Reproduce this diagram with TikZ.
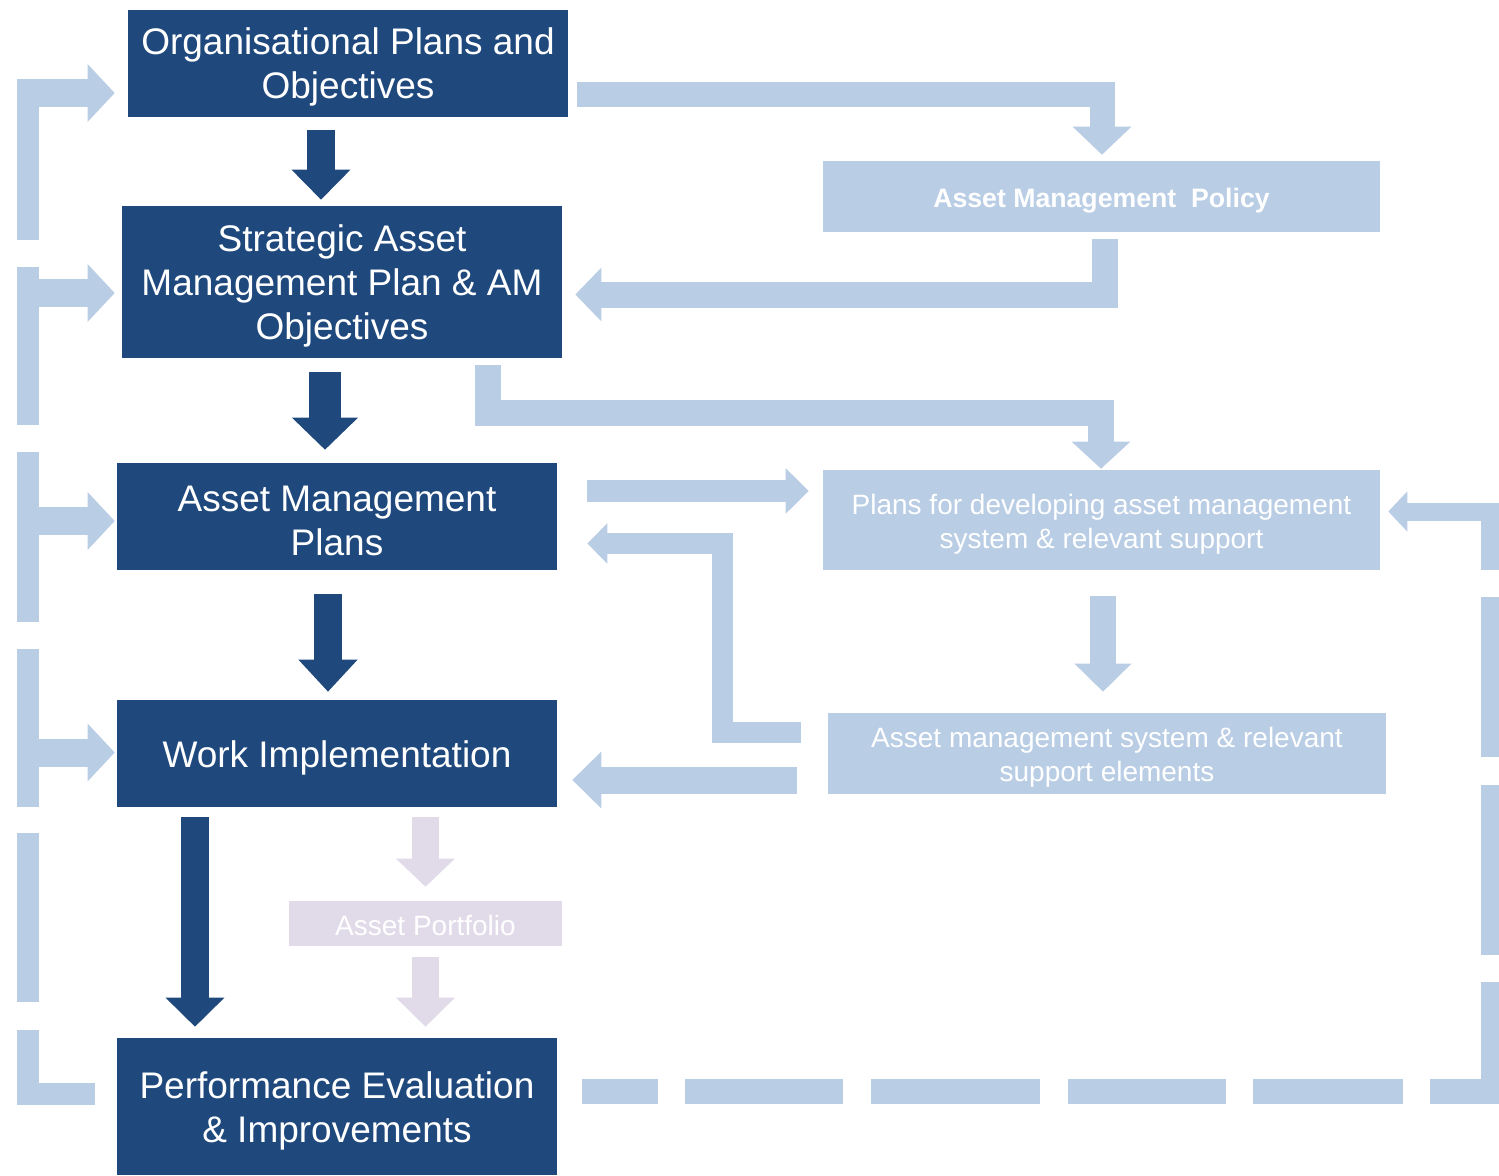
\documentclass[tikz,border=0pt]{standalone}
\usepackage{fontspec}
\setmainfont{Liberation Sans}
\usetikzlibrary{arrows.meta,calc}

\definecolor{dkblue}{RGB}{31,73,125}
\definecolor{ltblue}{RGB}{185,205,229}
\definecolor{lav}{RGB}{224,218,233}

% invisible struts that set the first-line height inside the boxes
\newcommand{\bigstrut}{\rule{0pt}{26pt}}
\newcommand{\smlstrut}{\rule{0pt}{21pt}}
\newcommand{\tinystrut}{\rule{0pt}{18pt}}

\tikzset{
  dkbox/.style={fill=dkblue, text=white, inner sep=0pt, align=center,
    font=\fontsize{27.75}{33}\selectfont},
  ltbox/.style={fill=ltblue, text=white, inner sep=0pt, align=center,
    font=\fontsize{21}{25.5}\selectfont},
  lvbox/.style={fill=lav, text=white, inner sep=0pt, align=center,
    font=\fontsize{21}{25.5}\selectfont},
  % block arrow: shaft width, head width, head length
  blk/.style n args={3}{line width=#1, line join=miter, line cap=butt,
    -{Triangle[width=#2 0 0, length=#3 0 0]}},
  dkarr/.style={draw=dkblue},
  ltarr/.style={draw=ltblue},
  lvarr/.style={draw=lav},
}

\begin{document}
\begin{tikzpicture}[x=0.75pt, y=-0.75pt]
\useasboundingbox (0,0) rectangle (1499,1175);

% main process boxes
\node[dkbox, minimum width=330pt, minimum height=80.25pt] (org) at (348,63.5)
  {\bigstrut Organisational Plans and\\Objectives};
\node[dkbox, minimum width=330pt, minimum height=114pt] (sam) at (342,282)
  {\bigstrut Strategic Asset\\Management Plan \& AM\\Objectives};
\node[dkbox, minimum width=330pt, minimum height=80.25pt] (amp) at (337,516.5)
  {\bigstrut Asset Management\\Plans};
\node[dkbox, minimum width=330pt, minimum height=80.25pt] (wrk) at (337,753.5)
  {\bigstrut Work Implementation};
\node[dkbox, minimum width=330pt, minimum height=102.75pt] (perf) at (337,1106.5)
  {\bigstrut Performance Evaluation\\\& Improvements};

% supporting boxes
\node[ltbox, minimum width=417.75pt, minimum height=53.25pt,
  font=\fontsize{20}{24}\selectfont\bfseries] (pol) at (1101.5,196.5)
  {\smlstrut Asset Management~ Policy};
\node[ltbox, minimum width=417.75pt, minimum height=75pt] (pdev) at (1101.5,520)
  {\smlstrut Plans for developing asset management\\system \& relevant support};
\node[ltbox, minimum width=418.5pt, minimum height=60.75pt] (ams) at (1107,753.5)
  {\smlstrut Asset management system \& relevant\\support elements};
\node[lvbox, minimum width=204.75pt, minimum height=33.75pt] (port) at (425.5,923.5)
  {\tinystrut Asset Portfolio};

% main downward flow
\draw[dkarr, blk={21pt}{42.75pt}{22.5pt}]
  ($(org.south)+(-27,13)$) -- ($(sam.north)+(-21,-6)$);
\draw[dkarr, blk={24pt}{48pt}{24pt}]
  ($(sam.south)+(-17,14)$) -- ($(amp.north)+(-12,-13)$);
\draw[dkarr, blk={21pt}{42.75pt}{24pt}]
  ($(amp.south)+(-9,24)$) -- ($(wrk.north)+(-9,-8)$);
\draw[dkarr, blk={21pt}{42.75pt}{21.75pt}]
  ($(wrk.south)+(-142,10)$) -- ($(perf.north)+(-142,-11)$);

% asset portfolio branch
\draw[lvarr, blk={20.25pt}{42.75pt}{21pt}]
  ($(wrk.south)+(88.5,10)$) -- ($(port.north)+(0,-14)$);
\draw[lvarr, blk={20.25pt}{42.75pt}{21.75pt}]
  ($(port.south)+(0,11)$) -- ($(perf.north)+(88.5,-11)$);

% policy and support links
\draw[ltarr, blk={18.75pt}{42.75pt}{21pt}]
  ($(org.east)+(9,30.5)$) -| ($(pol.north)+(0.5,-6)$);
\draw[ltarr, blk={19.5pt}{39pt}{19.5pt}]
  ($(pol.south)+(3.5,7)$) |- ($(sam.east)+(13,12.5)$);
\draw[ltarr, blk={19.5pt}{42.75pt}{20.25pt}]
  ($(sam.south)+(146,7)$) |- ($(pdev.north)+(-0.5,-57)$) -- ($(pdev.north)+(-0.5,-1)$);
\draw[ltarr, blk={16.5pt}{33pt}{17.25pt}]
  ($(amp.east)+(30,-25.5)$) -- ($(pdev.west)+(-14,-29)$);
\draw[ltarr, blk={15.75pt}{29.25pt}{15pt}]
  ($(ams.west)+(-27,-21.5)$) -| ($(amp.east)+(165.5,27)$) -- ($(amp.east)+(30,27)$);
\draw[ltarr, blk={20.25pt}{41.25pt}{21.75pt}]
  ($(ams.west)+(-31,26.5)$) -- ($(wrk.east)+(15,26.5)$);
\draw[ltarr, blk={19.5pt}{41.25pt}{21pt}]
  ($(pdev.south)+(1.5,26)$) -- ($(ams.north)+(-4,-21)$);

% feedback loop on the left
\coordinate (ltop) at (27.5,79);
\draw[draw=ltblue, line width=16.5pt, line join=miter,
  dash pattern=on 98.625pt off 21pt on 126.75pt off 19.5pt on 118.5pt off 20.25pt
    on 127.5pt off 20.25pt on 118.5pt off 20.25pt on 150pt]
  ($(perf.west)+(-22,-12.5)$) -| (ltop);
\coordinate (tap1) at (17,93);
\coordinate (tap2) at (17,293);
\coordinate (tap3) at (17,521);
\coordinate (tap4) at (17,752.5);
\draw[ltarr, blk={21pt}{42pt}{20.25pt}] (tap1) -- ($(org.west)+(-13,29.5)$);
\draw[ltarr, blk={21pt}{42pt}{20.25pt}] (tap2) -- ($(sam.west)+(-7,11)$);
\draw[ltarr, blk={21pt}{42pt}{20.25pt}] (tap3) -- ($(amp.west)+(-2,4.5)$);
\draw[ltarr, blk={21pt}{42pt}{20.25pt}] (tap4) -- ($(wrk.west)+(-2,-1)$);

% feedback loop on the right
\coordinate (rbend) at (1490,1091.5);
\draw[draw=ltblue, line width=18.75pt,
  dash pattern=on 57pt off 20.25pt on 118.5pt off 21pt on 126.75pt off 21pt
    on 118.5pt off 20.25pt on 112.5pt off 20.25pt on 150pt]
  ($(perf.east)+(25,-15)$) -- ($(rbend)+(9,0)$);
\draw[draw=ltblue, line width=13.5pt, line join=miter,
  dash pattern=on 91.5pt off 20.25pt on 127.5pt off 21pt on 120pt off 20.25pt on 300pt,
  -{Triangle[width=29.25pt 0 0, length=14.25pt 0 0]}]
  ($(rbend)+(0,12.5)$) |- ($(pdev.east)+(8,-8.5)$);
\end{tikzpicture}
\end{document}
